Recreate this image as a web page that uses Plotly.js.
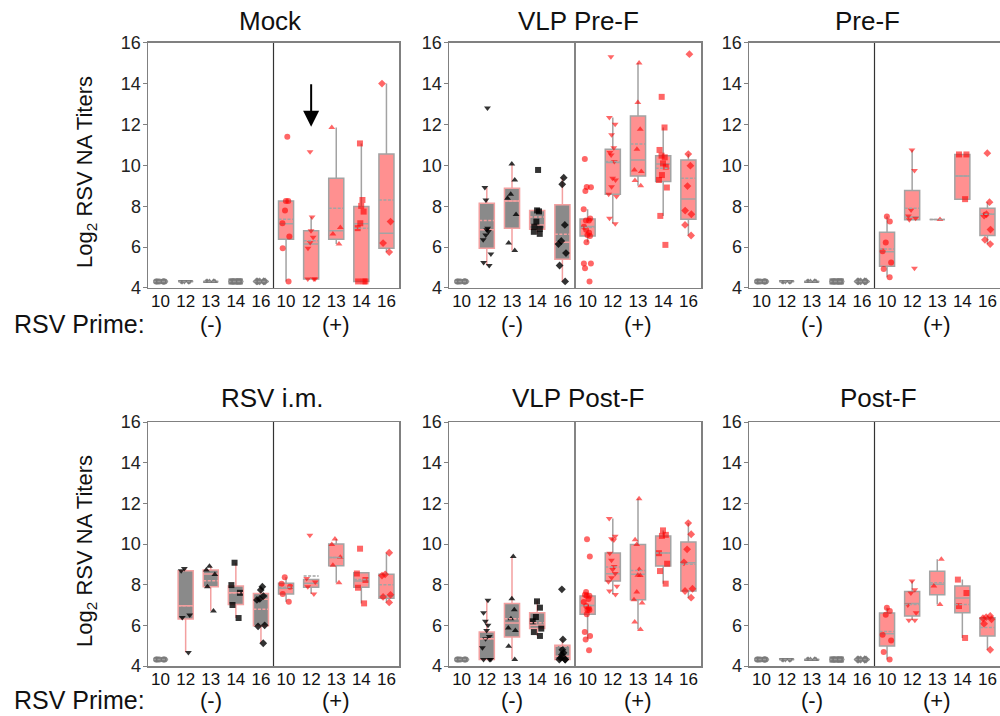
<!DOCTYPE html>
<html><head><meta charset="utf-8">
<script src="https://cdn.plot.ly/plotly-3.0.1.min.js"></script>
<style>html,body{margin:0;padding:0;background:#fff}#chart{width:1000px;height:716px}</style>
</head><body><div id="chart"></div>
<script>
// ---------------- data ----------------
const DAYS = ['10','12','13','14','16'];
const CATEGORIES = ['n10','n12','n13','n14','n16','p10','p12','p13','p14','p16'];
const TICK_LABELS = ['10','12','13','14','16','10','12','13','14','16'];
const PANEL_TITLES = ['Mock','VLP Pre-F','Pre-F','RSV i.m.','VLP Post-F','Post-F'];
const PRIME_LABELS = ['(-)','(+)'];

// Mock
const mock_q1     = [4.32,4.32,4.32,4.32,4.32, 6.39,4.44,6.39,4.32,5.95];
const mock_median = [4.32,4.32,4.32,4.32,4.32, 7.14,6.15,6.8,7.14,6.68];
const mock_q3     = [4.32,4.32,4.32,4.32,4.32, 8.26,6.8,9.37,7.99,10.56];
const mock_mean   = [4.32,4.32,4.32,4.32,4.32, 7.37,6.31,7.9,6.93,8.31];
const mock_low    = [4.32,4.32,4.32,4.32,4.32, 4.32,4.44,6.15,4.32,5.76];
const mock_high   = [4.32,4.32,4.32,4.32,4.32, 8.26,7.47,11.86,11.08,14.01];
const mock_points = [
  [4.32,4.32,4.32,4.32,4.32,4.32],[4.32,4.32,4.32,4.32,4.32,4.32],[4.32,4.32,4.32,4.32,4.32,4.32],
  [4.32,4.32,4.32,4.32,4.32,4.32],[4.32,4.32,4.32,4.32,4.32,4.32],
  [11.41,8.26,8.26,7.79,7.17,6.52,5.95,4.32],
  [10.67,7.47,6.8,6.49,6.23,5.95,4.44,4.44,4.44],
  [11.86,6.96,6.64,6.15],
  [11.08,8.31,8.02,7.74,7.17,6.93,4.32,4.32,4.32],
  [14.01,7.25,6.2,5.76]
];

// VLP Pre-F
const vlppre_q1     = [4.32,5.95,6.93,6.88,5.41, 6.55,8.59,9.49,9.21,7.37];
const vlppre_median = [4.32,6.85,8.26,7.09,6.24, 7.01,10.15,10.27,10.07,8.36];
const vlppre_q3     = [4.32,8.15,8.88,7.79,8.07, 7.38,10.79,12.42,10.48,10.27];
const vlppre_mean   = [4.32,7.3,8.26,7.47,6.63, 6.96,10.2,11.05,9.86,9.37];
const vlppre_low    = [4.32,5.1,5.83,6.65,4.32, 6.24,7.14,9.01,7.53,6.57];
const vlppre_high   = [4.32,8.92,10.07,7.79,9.4, 7.86,12.35,15.02,11.86,10.56];
const vlppre_points = [
  [4.32,4.32,4.32,4.32,4.32,4.32],
  [12.82,8.92,8.31,6.93,6.77,6.6,6.36,6.85,5.67,5.25,5.1],
  [10.07,9.29,8.59,8.39,7.6,6.2,5.83],
  [9.78,7.8,7.75,7.25,7.0,6.9,6.75,6.65],
  [9.4,9.08,7.09,6.3,6.15,5.71,5.1,4.32],
  [10.32,8.93,8.95,8.75,7.86,7.4,7.3,7.3,7.0,6.85,6.7,6.6,6.55,6.24,5.2,5.2,4.97,4.32],
  [15.32,12.35,12.02,11.5,10.87,10.64,10.51,10.2,9.37,9.29,8.96,8.59,8.48,7.42,7.14],
  [15.02,13.08,11.77,10.8,9.78,9.7,9.26,9.01],
  [13.36,11.86,10.76,10.48,10.4,10.1,9.94,9.53,9.29,8.92,7.53,6.11],
  [15.45,10.56,9.99,8.99,7.79,7.61,7.09,6.57]
];

// Pre-F
const pref_q1     = [4.32,4.32,4.32,4.32,4.32, 5.06,7.34,7.35,8.35,6.57];
const pref_median = [4.32,4.32,4.32,4.32,4.32, 5.78,7.47,7.35,9.49,7.61];
const pref_q3     = [4.32,4.32,4.32,4.32,4.32, 6.73,8.77,7.35,10.54,7.91];
const pref_mean   = [4.32,4.32,4.32,4.32,4.32, 5.91,7.91,7.35,9.49,7.61];
const pref_low    = [4.32,4.32,4.32,4.32,4.32, 4.52,7.34,7.35,8.35,6.15];
const pref_high   = [4.32,4.32,4.32,4.32,4.32, 7.5,10.76,7.35,10.54,8.2];
const pref_points = [
  [4.32,4.32,4.32,4.32,4.32,4.32],[4.32,4.32,4.32,4.32,4.32,4.32],[4.32,4.32,4.32,4.32,4.32,4.32],
  [4.32,4.32,4.32,4.32,4.32,4.32],[4.32,4.32,4.32,4.32,4.32,4.32],
  [7.5,7.25,6.23,5.8,5.25,4.93,4.52],
  [10.76,9.75,7.82,7.53,7.42,7.34,4.97],
  [7.35],
  [10.54,10.54,8.35],
  [10.6,8.2,7.61,7.55,6.86,6.36,6.15]
];

// RSV i.m.
const rsvim_q1     = [4.32,6.31,7.9,7.03,5.98, 7.54,7.87,8.93,7.87,7.33];
const rsvim_median = [4.32,6.97,8.52,7.6,7.28, 7.82,8.07,9.34,8.18,7.46];
const rsvim_q3     = [4.32,8.68,8.72,7.93,7.57, 8.07,8.26,10.0,8.59,8.51];
const rsvim_mean   = [4.32,6.97,8.19,7.6,6.79, 7.87,8.43,9.34,8.26,8.0];
const rsvim_low    = [4.32,4.66,6.7,6.36,5.12, 7.16,7.54,8.1,7.08,7.13];
const rsvim_high   = [4.32,8.8,8.91,9.08,7.9, 8.36,8.26,10.25,8.59,9.57];
const rsvim_points = [
  [4.32,4.32,4.32,4.32,4.32],
  [8.8,8.68,6.51,6.39,4.66],
  [8.91,8.72,8.5,7.9,6.7],
  [9.08,7.98,7.6,7.0,6.36],
  [7.9,7.74,7.44,7.3,7.25,6.0,5.95,5.12],
  [8.36,8.05,7.9,7.54,7.16],
  [10.43,8.3,8.13,7.9,7.54],
  [10.25,9.98,9.35,8.95,8.1],
  [9.77,8.55,8.23,7.85,7.08],
  [9.57,8.51,8.45,7.5,7.4,7.13]
];

// VLP Post-F
const vlppost_q1     = [4.32,4.32,5.43,5.84,4.32, 6.54,8.18,7.26,8.92,7.69];
const vlppost_median = [4.32,5.34,6.11,6.0,4.48, 6.98,8.54,8.51,9.56,9.08];
const vlppost_q3     = [4.32,5.67,7.07,6.62,5.02, 7.44,9.56,9.98,10.39,10.1];
const vlppost_mean   = [4.32,5.34,6.33,6.13,4.97, 6.98,8.87,8.7,9.56,9.0];
const vlppost_low    = [4.32,4.32,4.32,5.48,4.32, 5.3,7.52,5.79,8.05,7.36];
const vlppost_high   = [4.32,7.23,9.39,7.23,5.31, 7.64,11.25,12.23,10.67,11.03];
const vlppost_points = [
  [4.32,4.32,4.32,4.32,4.32],
  [7.23,6.62,6.2,6.0,5.75,5.45,5.34,4.9,4.32,4.32,4.32],
  [9.39,7.31,6.77,6.33,5.87,5.75,4.97,4.32],
  [7.18,6.87,6.41,6.2,5.84,5.67,5.48],
  [7.77,5.31,4.8,4.65,4.55,4.4,4.32,4.32,4.32],
  [10.23,9.39,7.64,7.5,7.45,7.45,7.3,7.15,6.95,6.85,6.75,6.75,6.55,5.67,5.48,5.3,4.77],
  [11.25,10.38,10.26,10.2,9.55,9.2,8.9,8.75,8.55,8.34,8.15,7.92,7.69,7.52],
  [12.23,10.21,9.98,8.75,8.46,8.45,7.64,7.26,7.1,6.16,5.79],
  [10.67,10.45,10.4,9.55,9.03,8.67,8.05],
  [11.03,10.48,9.74,9.1,7.8,7.69,7.36]
];

// Post-F
const postf_q1     = [4.32,4.32,4.32,4.32,4.32, 4.98,6.46,7.51,6.62,5.48];
const postf_median = [4.32,4.32,4.32,4.32,4.32, 5.59,7.07,8.02,7.34,6.33];
const postf_q3     = [4.32,4.32,4.32,4.32,4.32, 6.61,7.67,8.66,7.93,6.38];
const postf_mean   = [4.32,4.32,4.32,4.32,4.32, 5.7,7.02,8.1,7.02,5.89];
const postf_low    = [4.32,4.32,4.32,4.32,4.32, 4.32,6.25,7.03,5.38,4.8];
const postf_high   = [4.32,4.32,4.32,4.32,4.32, 6.87,8.18,9.25,8.25,6.46];
const postf_points = [
  [4.32,4.32,4.32,4.32,4.32,4.32],[4.32,4.32,4.32,4.32,4.32,4.32],[4.32,4.32,4.32,4.32,4.32,4.32],
  [4.32,4.32,4.32,4.32,4.32,4.32],[4.32,4.32,4.32,4.32,4.32,4.32],
  [6.87,6.7,6.52,5.54,5.26,4.69,4.32],
  [8.18,7.75,7.59,7.0,6.62,6.25,6.25],
  [9.25,7.93,7.03],
  [8.25,7.59,6.95,5.38],
  [6.46,6.4,6.35,6.3,6.08,4.8]
];

// ---------------- styling / build ----------------
const FONT = 'Liberation Sans, Arial, sans-serif';
const SYMBOL = {'10':'circle','12':'triangle-down','13':'triangle-up','14':'square','16':'diamond'};
const COL_DOMAINS = [[0.148,0.399],[0.449,0.701],[0.749,1.0]];
const ROW_DOMAINS = [[0.5978,0.94],[0.0698,0.4106]];

const panels = [
  {q1:mock_q1, med:mock_median, q3:mock_q3, mean:mock_mean, lo:mock_low, hi:mock_high, pts:mock_points},
  {q1:vlppre_q1, med:vlppre_median, q3:vlppre_q3, mean:vlppre_mean, lo:vlppre_low, hi:vlppre_high, pts:vlppre_points},
  {q1:pref_q1, med:pref_median, q3:pref_q3, mean:pref_mean, lo:pref_low, hi:pref_high, pts:pref_points},
  {q1:rsvim_q1, med:rsvim_median, q3:rsvim_q3, mean:rsvim_mean, lo:rsvim_low, hi:rsvim_high, pts:rsvim_points},
  {q1:vlppost_q1, med:vlppost_median, q3:vlppost_q3, mean:vlppost_mean, lo:vlppost_low, hi:vlppost_high, pts:vlppost_points},
  {q1:postf_q1, med:postf_median, q3:postf_q3, mean:postf_mean, lo:postf_low, hi:postf_high, pts:postf_points}
];

const traces = [];
const layout = {
  width:1000, height:716, margin:{l:0,r:0,t:0,b:0},
  paper_bgcolor:'#fff', plot_bgcolor:'#fff',
  font:{family:FONT, color:'#111'},
  showlegend:false, boxmode:'overlay',
  annotations:[], shapes:[]
};

panels.forEach((p,k)=>{
  const sx = k ? String(k+1) : '';
  const xa = 'x'+sx, ya = 'y'+sx;
  const col = k%3, row = Math.floor(k/3);
  CATEGORIES.forEach((cat,i)=>{
    const neg = i < 5;
    const day = DAYS[i%5];
    const flat = p.q1[i] === p.q3[i] && p.lo[i] === p.hi[i];
    let mcol = neg ? 'rgba(0,0,0,0.8)' : 'rgba(255,0,0,0.6)';
    if (neg && flat) mcol = 'rgba(120,120,120,0.9)';
    traces.push({
      type:'box', orientation:'v', xaxis:xa, yaxis:ya,
      x:[cat], y:[p.pts[i]],
      q1:[p.q1[i]], median:[p.med[i]], q3:[p.q3[i]],
      lowerfence:[p.lo[i]], upperfence:[p.hi[i]], mean:[p.mean[i]],
      boxmean:true, boxpoints:'all', jitter:0.7, pointpos:0,
      width:0.6, whiskerwidth:0,
      fillcolor: neg ? '#8a8a8a' : '#ff9090',
      line:{color: neg ? (flat ? '#999999' : '#f3a0a0') : '#a3a3a3', width:1.5},
      marker:{symbol:SYMBOL[day], size:6, color:mcol},
      hoverinfo:'skip', showlegend:false
    });
  });
  layout['xaxis'+sx] = {
    domain:COL_DOMAINS[col], anchor:ya, type:'category',
    categoryorder:'array', categoryarray:CATEGORIES,
    tickvals:CATEGORIES, ticktext:TICK_LABELS, range:[-0.5,9.5],
    showline:true, mirror:true, linecolor:'#808080', linewidth:1.5,
    ticks:'', showgrid:false, zeroline:false, fixedrange:true,
    ticklabelstandoff:-3,
    tickfont:{size:17, color:'#111', family:FONT}
  };
  layout['yaxis'+sx] = {
    domain:ROW_DOMAINS[row], anchor:xa, range:[4,16],
    tickvals:[4,6,8,10,12,14,16], ticks:'outside', ticklen:4, tickcolor:'#808080',
    showline:true, mirror:true, linecolor:'#808080', linewidth:1.5,
    showgrid:false, zeroline:false, fixedrange:true,
    ticklabelstandoff:-2,
    tickfont:{size:18, color:'#222', family:FONT}
  };
  layout.shapes.push({type:'line', xref:xa+' domain', yref:ya+' domain', x0:0.5, x1:0.5, y0:0, y1:1,
    line:{color:'#333', width:1.2}});
  // (-) / (+)
  PRIME_LABELS.forEach((lab,j)=>{
    layout.annotations.push({text:lab, xref:xa+' domain', x:j?0.75:0.25, yref:'paper',
      y: row ? 1-700/716 : 1-324/716, showarrow:false, font:{size:22, color:'#111'}, xanchor:'center', yanchor:'middle'});
  });
});

// panel titles
const TITLE_POS = [[270,21],[578,21],[867,21],[272,398],[578,398],[878,398]];
PANEL_TITLES.forEach((t,k)=>{
  layout.annotations.push({text:t, xref:'paper', yref:'paper', x:TITLE_POS[k][0]/1000, y:1-TITLE_POS[k][1]/716,
    showarrow:false, xanchor:'center', yanchor:'middle', font:{size:26, color:'#111'}});
});
// y titles and RSV Prime labels
[172, 551].forEach(yc=>{
  layout.annotations.push({text:'Log<sub>2</sub> RSV NA Titers', xref:'paper', yref:'paper', x:86/1000, y:1-yc/716,
    textangle:-90, showarrow:false, xanchor:'center', yanchor:'middle', font:{size:22, color:'#111'}});
});
[324, 700].forEach(yc=>{
  layout.annotations.push({text:'RSV Prime:', xref:'paper', yref:'paper', x:12/1000, y:1-yc/716,
    showarrow:false, xanchor:'left', yanchor:'middle', font:{size:25, color:'#111'}});
});
// arrow in Mock panel
layout.annotations.push({text:'', xref:'x', yref:'y', x:'p12', y:11.9, ax:0, ay:-44,
  showarrow:true, arrowhead:2, arrowsize:1.6, arrowwidth:2, arrowcolor:'#000'});

Plotly.newPlot('chart', traces, layout, {displayModeBar:false, staticPlot:true});
</script></body></html>
